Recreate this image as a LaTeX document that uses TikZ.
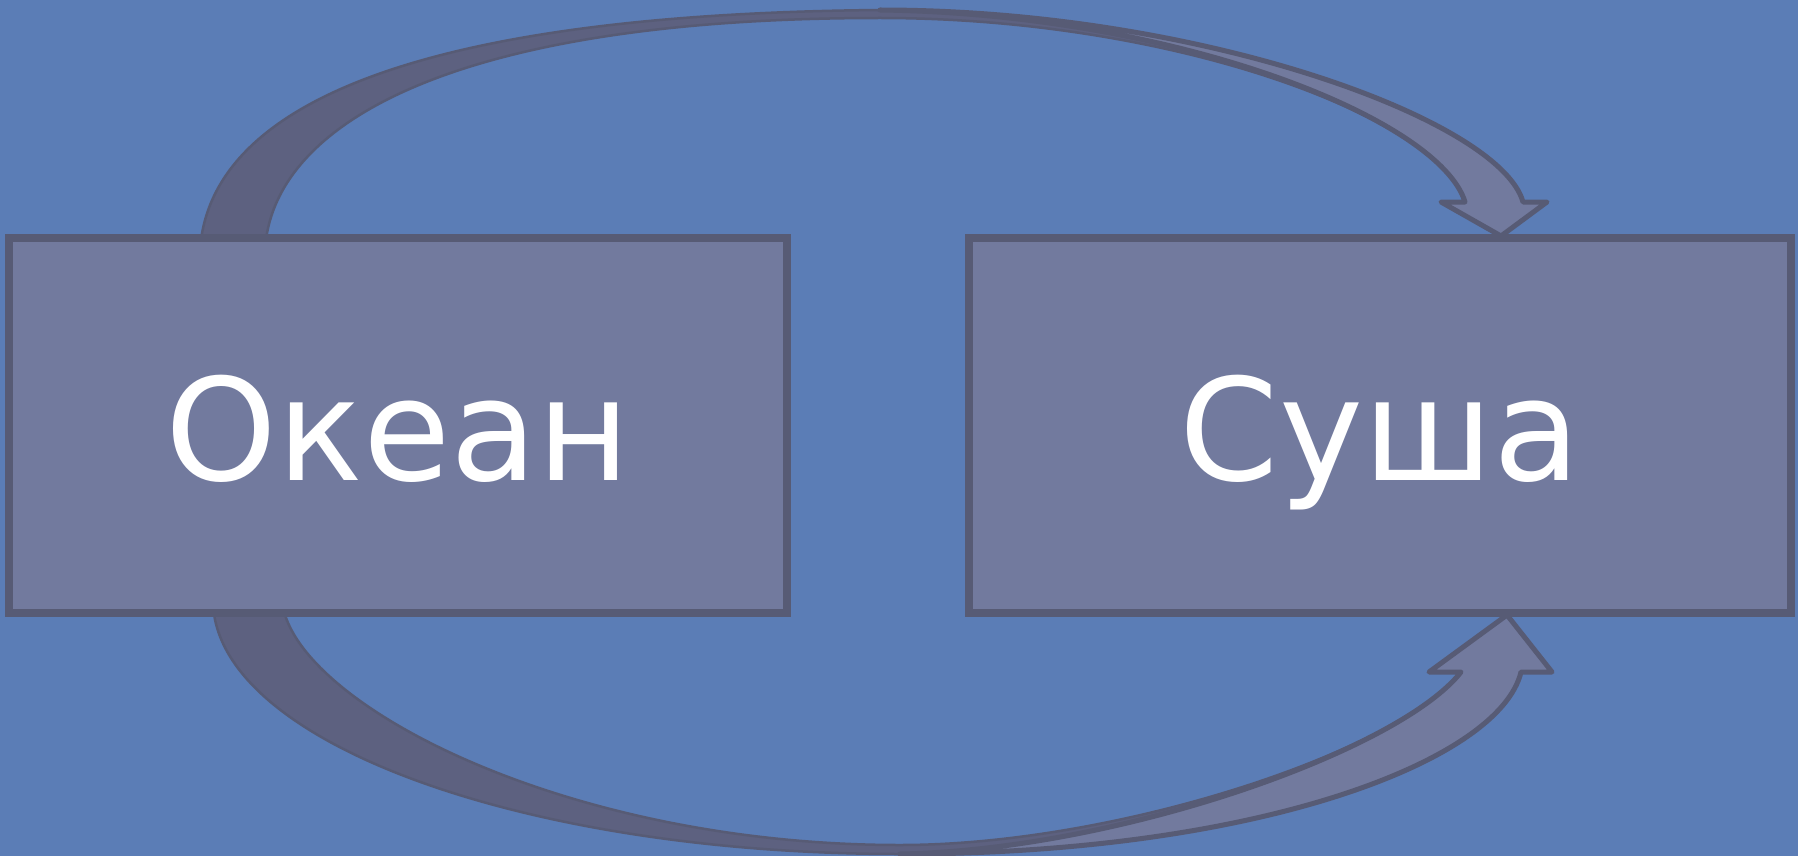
\documentclass[tikz,border=0pt]{standalone}
\usepackage{fontspec}
\setmainfont{DejaVu Sans}
\definecolor{bgblue}{HTML}{5B7DB6}
\definecolor{boxfill}{HTML}{727A9E}
\definecolor{boxline}{HTML}{575B75}
\definecolor{backfill}{HTML}{5D6180}
\begin{document}
\begin{tikzpicture}[x=1pt,y=-1pt,
  box/.style={draw=boxline, fill=boxfill, line width=8pt, inner sep=0pt,
    text=white, font=\fontsize{142}{142}\selectfont,
    text height=109pt, text depth=0pt},
  arrowback/.style={fill=backfill, draw=boxline, line width=2.5pt, line join=round},
  arrowfront/.style={fill=boxfill, draw=boxline, line width=5pt, line join=round}]
\useasboundingbox (0,0) rectangle (1798,856);
\fill[bgblue] (0,0) rectangle (1798,856);

% top curved arrow: back band
\coordinate (ttip) at (1501,236);
\path[arrowback]
  (200,250) .. controls (210,100) and (430,14) .. (880,10)
  .. controls (1200,10) and (1500,120) .. (1523,202)
  -- (1547,202) -- (ttip) -- (1441,202) -- (1465,202)
  .. controls (1440,120) and (1180,18) .. (880,18)
  .. controls (450,18) and (272,125) .. (265,250)
  -- cycle;
% top arrow: front part
\path[arrowfront]
  (880,10) .. controls (1200,10) and (1500,120) .. (1523,202)
  -- (1547,202) -- (ttip) -- (1441,202) -- (1465,202)
  .. controls (1440,120) and (1180,14) .. (880,10)
  -- cycle;

% bottom curved arrow: back band
\coordinate (btip) at (1507,615);
\path[arrowback]
  (213,600) .. controls (213,740) and (519,854) .. (900,854)
  .. controls (1260,854) and (1500,760) .. (1521,672)
  -- (1552,672) -- (btip) -- (1429,672) -- (1461,672)
  .. controls (1400,750) and (1120,845) .. (900,845)
  .. controls (560,845) and (290,700) .. (282,600)
  -- cycle;
% bottom arrow: front part
\path[arrowfront]
  (900,854) .. controls (1260,854) and (1500,760) .. (1521,672)
  -- (1552,672) -- (btip) -- (1429,672) -- (1461,672)
  .. controls (1400,750) and (1120,850) .. (900,854)
  -- cycle;

% boxes
\node[box, minimum width=778pt, minimum height=375pt] (ocean) at (398,425.5) {Океан};
\node[box, minimum width=822pt, minimum height=375pt] (land) at (1380,425.5) {Суша};
\end{tikzpicture}
\end{document}
